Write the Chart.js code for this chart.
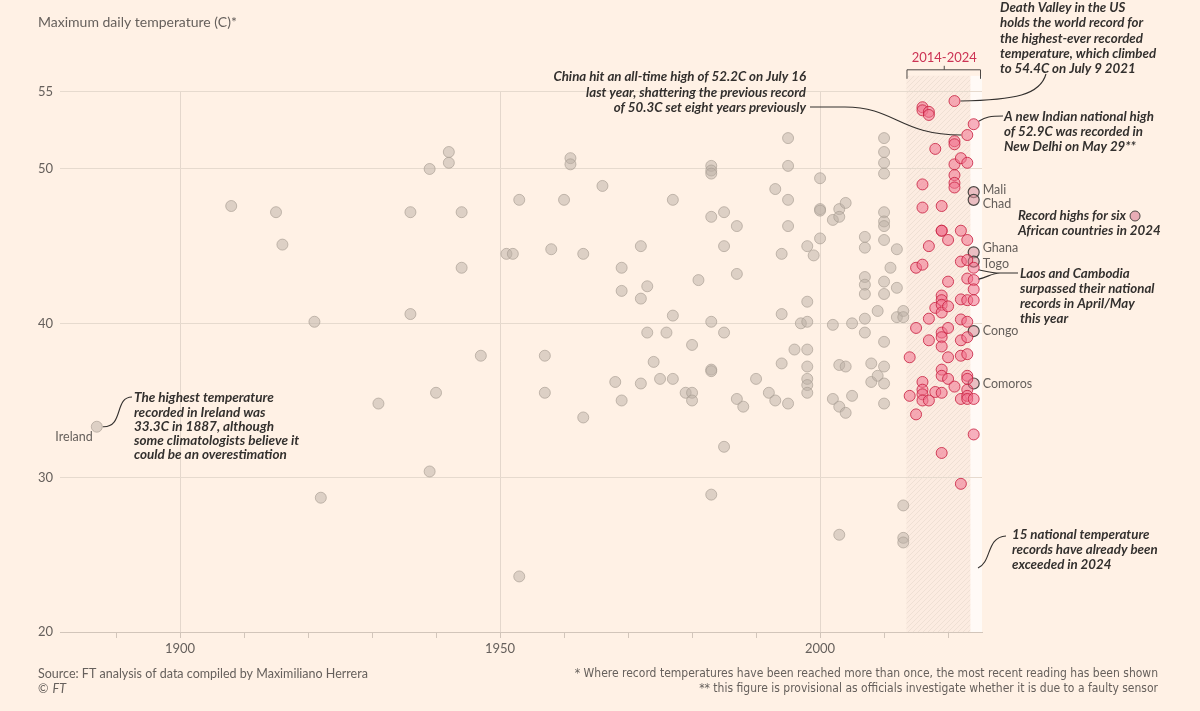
<!DOCTYPE html>
<html>
<head>
<meta charset="utf-8">
<script src="https://cdn.jsdelivr.net/npm/chart.js@4.4.1/dist/chart.umd.min.js"></script>
<style>
  html, body { margin: 0; padding: 0; background: #fff1e5; }
  #wrap { width: 1200px; height: 711px; position: relative; }
</style>
</head>
<body>
<div id="wrap"><canvas id="c" width="1200" height="711"></canvas></div>
<script>
// record temperatures set before 2014 (year, max temp C)
const olderYears = [1887,1908,1915,1916,1921,1922,1931,1936,1936,1939,1939,1940,1942,1942,1944,1944,1947,
  1951,1952,1953,1953,1957,1957,1958,1960,1961,1961,1963,1963,1966,1968,1969,1969,1969,1972,1972,1972,
  1973,1973,1974,1975,1976,1977,1977,1977,1979,1980,1980,1980,1981,1983,1983,1983,1983,1983,1983,1983,1983,
  1985,1985,1985,1985,1987,1987,1987,1988,1990,1992,1993,1993,1994,1994,1994,1995,1995,1995,1995,1995,
  1996,1997,1998,1998,1998,1998,1998,1998,1998,1998,1999,2000,2000,2000,2000,2002,2002,2002,
  2003,2003,2003,2003,2003,2004,2004,2004,2005,2005,2007,2007,2007,2007,2007,2007,2007,2008,2008,2009,2009,
  2010,2010,2010,2010,2010,2010,2010,2010,2010,2010,2010,2010,2010,2010,2011,2012,2012,2012,2013,2013,2013,2013,2013];
const olderTemps = [33.3,47.6,47.2,45.1,40.1,28.7,34.8,47.2,40.6,50.0,30.4,35.5,51.1,50.4,47.2,43.6,37.9,
  44.5,44.5,48.0,23.6,37.9,35.5,44.8,48.0,50.7,50.3,44.5,33.9,48.9,36.2,43.6,42.1,35.0,45.0,41.6,36.1,
  42.4,39.4,37.5,36.4,39.4,48.0,40.5,36.4,35.5,38.6,35.5,35.0,42.8,50.2,49.9,49.7,46.9,40.1,37.0,36.9,28.9,
  47.2,45.0,39.4,32.0,46.3,43.2,35.1,34.6,36.4,35.5,48.7,35.0,44.5,40.6,37.4,52.0,50.2,48.0,46.3,34.8,
  38.3,40.0,45.0,41.4,40.1,38.3,37.2,36.4,36.0,35.5,44.4,49.4,47.4,47.3,45.5,46.7,39.9,35.1,
  47.4,46.9,37.3,34.6,26.3,47.8,37.2,34.2,40.0,35.3,45.6,44.9,43.0,42.5,41.9,40.3,39.4,37.4,36.2,40.8,36.6,
  52.0,51.1,50.4,49.7,47.2,46.6,46.3,45.4,42.7,41.9,38.8,37.2,36.1,34.8,43.6,44.8,42.3,40.4,40.8,40.4,28.2,26.1,25.8];

// records set 2014-2024
const recentYears = [2014,2014,2015,2015,2015,2016,2016,2016,2016,2016,2016,2016,2016,2016,
  2017,2017,2017,2017,2017,2017,2018,2018,2018,
  2019,2019,2019,2019,2019,2019,2019,2019,2019,2019,2019,2019,2019,2019,
  2020,2020,2020,2020,2020,2020,2021,2021,2021,2021,2021,2021,2021,2021,
  2022,2022,2022,2022,2022,2022,2022,2022,2022,
  2023,2023,2023,2023,2023,2023,2023,2023,2023,2023,2023,2023,2023,2023,
  2024,2024,2024,2024,2024,2024,2024];
const recentTemps = [37.8,35.3,43.6,39.7,34.1,54.0,53.8,49.0,47.5,43.8,36.2,35.7,35.4,35.0,
  53.7,53.5,45.0,40.3,38.9,35.0,51.3,41.0,35.55,
  47.6,46.0,46.0,41.8,41.5,41.2,40.7,39.4,39.1,38.5,37.0,36.6,35.5,31.6,
  45.4,42.7,41.1,39.7,37.8,36.4,54.4,51.8,51.6,50.3,49.6,49.1,48.8,35.9,
  50.7,46.0,44.0,41.55,40.25,38.9,37.9,35.1,29.6,
  52.2,50.4,45.4,44.1,42.9,41.5,40.1,39.1,38.0,36.6,36.4,35.7,35.3,35.1,
  52.9,43.6,42.8,42.2,41.5,35.1,32.8];

// six African national records in 2024
const africaNames = ['Mali','Chad','Ghana','Togo','Congo','Comoros'];
const africaYears = [2024,2024,2024,2024,2024,2024];
const africaTemps = [48.5,48.0,44.6,44.0,39.5,36.1];

const yTicks = [20,30,40,50,55];
const xLabelYears = [1900,1950,2000];
const bandFrom = 2013.5, bandTo = 2023.5;

const GREY = '#66605c', DARK = '#33302e', RED = '#cc3354';
const SANS = "Lato, 'Open Sans', sans-serif";

function pts(xs, ys) { return xs.map((x, i) => ({ x: x, y: ys[i] })); }

function textLines(ctx, arr, x, y, lh) {
  arr.forEach((t, i) => ctx.fillText(t, x, y + i * lh));
}

const decor = {
  id: 'decor',
  beforeDraw(chart) {
    const ctx = chart.ctx, a = chart.chartArea, xs = chart.scales.x;
    ctx.save();
    ctx.fillStyle = '#fff1e5';
    ctx.fillRect(0, 0, chart.width, chart.height);

    // hatched 2014-2023 band + pale 2024 column
    const pc = document.createElement('canvas');
    pc.width = pc.height = 5;
    const g = pc.getContext('2d');
    g.fillStyle = '#fcece1'; g.fillRect(0, 0, 5, 5);
    g.strokeStyle = '#efe0d4'; g.lineWidth = 1;
    g.beginPath(); g.moveTo(0, 5); g.lineTo(5, 0); g.stroke();
    const x0 = xs.getPixelForValue(bandFrom), x1 = xs.getPixelForValue(bandTo);
    const top = a.top - 16;
    ctx.fillStyle = ctx.createPattern(pc, 'repeat');
    ctx.fillRect(x0, top, x1 - x0, a.bottom - top);
    ctx.fillStyle = '#fffaf6';
    ctx.fillRect(x1, top, a.right - x1, a.bottom - top);

    // bracket and label
    ctx.strokeStyle = '#4d4845'; ctx.lineWidth = 1;
    ctx.beginPath();
    ctx.moveTo(x0 + 0.5, a.top - 13); ctx.lineTo(x0 + 0.5, a.top - 22);
    ctx.lineTo(a.right - 1.5, a.top - 22); ctx.lineTo(a.right - 1.5, a.top - 13);
    const mid = (x0 + a.right) / 2;
    ctx.moveTo(mid, a.top - 22); ctx.lineTo(mid, a.top - 26);
    ctx.stroke();
    ctx.fillStyle = RED; ctx.font = '13px ' + SANS;
    ctx.textAlign = 'center'; ctx.textBaseline = 'middle';
    ctx.fillText('2014-2024', mid, a.top - 34);
    ctx.restore();
  },
  afterDatasetsDraw(chart) {
    const ctx = chart.ctx, xs = chart.scales.x, ys = chart.scales.y;
    const P = (yr, t) => ({ x: xs.getPixelForValue(yr), y: ys.getPixelForValue(t) });
    ctx.save();
    ctx.strokeStyle = DARK; ctx.lineWidth = 1.1;

    // leader lines
    const china = P(2023, 52.2);
    ctx.beginPath(); ctx.moveTo(810, 107); ctx.lineTo(845, 107);
    ctx.bezierCurveTo(895, 107, 900, china.y, china.x - 6, china.y); ctx.stroke();

    const dv = P(2021, 54.4);
    ctx.beginPath(); ctx.moveTo(dv.x + 6, dv.y);
    ctx.bezierCurveTo(1015, dv.y - 1, 1040, 95, 1046, 74); ctx.stroke();

    const india = P(2024, 52.9);
    ctx.beginPath(); ctx.moveTo(india.x + 5, india.y - 3);
    ctx.bezierCurveTo(986, 117, 990, 116, 1003, 116); ctx.stroke();

    const laos = P(2024, 43.6), camb = P(2024, 42.8);
    ctx.beginPath();
    ctx.moveTo(laos.x + 5, laos.y + 2); ctx.bezierCurveTo(988, laos.y + 4, 992, 273, 1000, 273);
    ctx.moveTo(camb.x + 5, camb.y - 1); ctx.bezierCurveTo(988, camb.y - 3, 992, 273, 1000, 273);
    ctx.lineTo(1018, 273); ctx.stroke();

    const ire = P(1887, 33.3);
    ctx.beginPath(); ctx.moveTo(ire.x + 6, ire.y);
    ctx.bezierCurveTo(124, ire.y + 1, 114, 397, 132, 397); ctx.stroke();

    ctx.beginPath(); ctx.moveTo(978, 568);
    ctx.bezierCurveTo(992, 562, 986, 537, 1006, 536); ctx.stroke();

    // annotation texts
    ctx.fillStyle = DARK; ctx.textBaseline = 'middle';
    ctx.font = 'italic bold 13.3px ' + SANS;
    ctx.textAlign = 'right';
    textLines(ctx, ['China hit an all-time high of 52.2C on July 16',
      'last year, shattering the previous record',
      'of 50.3C set eight years previously'], 806, 77, 15.3);
    ctx.textAlign = 'left';
    textLines(ctx, ['Death Valley in the US', 'holds the world record for',
      'the highest-ever recorded', 'temperature, which climbed',
      'to 54.4C on July 9 2021'], 1000, 8, 15.2);
    textLines(ctx, ['A new Indian national high', 'of 52.9C was recorded in',
      'New Delhi on May 29**'], 1004, 117, 15);
    textLines(ctx, ['Record highs for six', 'African countries in 2024'], 1018, 216, 15);
    textLines(ctx, ['Laos and Cambodia', 'surpassed their national',
      'records in April/May', 'this year'], 1020, 274, 14.8);
    textLines(ctx, ['15 national temperature', 'records have already been',
      'exceeded in 2024'], 1012, 535, 15);
    ctx.font = 'italic bold 13.5px ' + SANS;
    textLines(ctx, ['The highest temperature', 'recorded in Ireland was',
      '33.3C in 1887, although', 'some climatologists believe it',
      'could be an overestimation'], 134, 398, 14.2);

    // legend-like marker after "Record highs for six"
    ctx.font = 'italic bold 13.3px ' + SANS;
    const w = ctx.measureText('Record highs for six').width;
    ctx.beginPath(); ctx.arc(1018 + w + 9, 216, 5, 0, Math.PI * 2);
    ctx.fillStyle = 'rgba(226,150,165,0.75)'; ctx.fill();
    ctx.strokeStyle = '#4d4845'; ctx.lineWidth = 1; ctx.stroke();

    // country labels
    ctx.fillStyle = GREY; ctx.font = '12.5px ' + SANS;
    ctx.textAlign = 'left';
    const nudge = { Mali: -2, Chad: 4, Ghana: -4, Togo: 2, Congo: 0, Comoros: 0 };
    africaNames.forEach((n, i) => {
      const p = P(africaYears[i], africaTemps[i]);
      ctx.fillText(n, p.x + 9, p.y + nudge[n]);
    });
    ctx.textAlign = 'right';
    ctx.fillText('Ireland', ire.x - 4, ire.y + 10);

    // footer
    ctx.textAlign = 'left'; ctx.font = '12.5px ' + SANS;
    ctx.fillText('Source: FT analysis of data compiled by Maximiliano Herrera', 38, 674);
    ctx.fillText('\u00A9', 38, 689);
    const cw = ctx.measureText('\u00A9 ').width;
    ctx.font = 'italic 12.5px ' + SANS;
    ctx.fillText('FT', 38 + cw + 1, 689);
    ctx.textAlign = 'right';
    ctx.font = "12px 'Liberation Sans Narrow', 'DejaVu Sans Condensed', sans-serif";
    ctx.fillText('* Where record temperatures have been reached more than once, the most recent reading has been shown', 1158, 674);
    ctx.fillText('** this figure is provisional as officials investigate whether it is due to a faulty sensor', 1158, 689);
    ctx.restore();
  }
};

new Chart(document.getElementById('c'), {
  type: 'scatter',
  data: {
    datasets: [
      { label: 'Before 2014', data: pts(olderYears, olderTemps),
        backgroundColor: 'rgba(188,176,166,0.5)', borderColor: 'rgba(168,156,146,0.65)',
        borderWidth: 1, pointRadius: 5.5 },
      { label: '2014-2024', data: pts(recentYears, recentTemps),
        backgroundColor: 'rgba(240,115,142,0.55)', borderColor: 'rgba(200,30,62,0.8)',
        borderWidth: 1, pointRadius: 5.5 },
      { label: 'African records 2024', data: pts(africaYears, africaTemps),
        backgroundColor: 'rgba(220,150,160,0.6)', borderColor: '#4d4845',
        borderWidth: 1.2, pointRadius: 5.5 }
    ]
  },
  options: {
    responsive: false,
    animation: false,
    layout: { padding: { left: 38, right: 218, top: 0, bottom: 49 } },
    plugins: {
      legend: { display: false },
      tooltip: { enabled: false },
      title: {
        display: true, text: 'Maximum daily temperature (C)*', align: 'start',
        color: GREY, font: { family: SANS, size: 14, weight: 'normal' },
        padding: { top: 14, bottom: 61 }
      }
    },
    scales: {
      x: {
        type: 'linear', min: 1881.25, max: 2025.3,
        afterFit: s => { s.height = 30; },
        ticks: {
          stepSize: 10, includeBounds: false, autoSkip: false, maxRotation: 0,
          callback: v => xLabelYears.includes(v) ? String(v) : '',
          color: GREY, font: { family: SANS, size: 13 }, padding: 3
        },
        grid: {
          color: c => (c.tick && xLabelYears.includes(c.tick.value)) ? '#e4d7cc' : 'rgba(0,0,0,0)',
          tickColor: '#d2c5ba', tickLength: 6
        },
        border: { display: true, color: '#d2c5ba' }
      },
      y: {
        min: 20, max: 55,
        afterFit: s => { s.width = 22; },
        afterBuildTicks: s => { s.ticks = yTicks.map(v => ({ value: v })); },
        ticks: { crossAlign: 'far', color: GREY, font: { family: SANS, size: 13 }, padding: 0 },
        grid: { color: c => (c.tick && c.tick.value === 20) ? '#d2c5ba' : '#e6dace', drawTicks: false },
        border: { display: false }
      }
    }
  },
  plugins: [decor]
});
</script>
</body>
</html>
